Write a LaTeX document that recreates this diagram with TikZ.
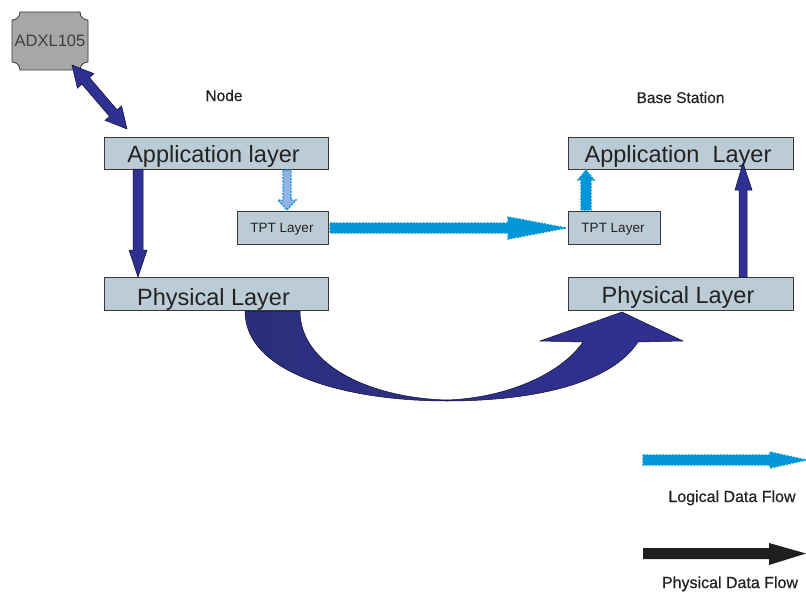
\documentclass[tikz,border=0pt]{standalone}
\usepackage{fontspec}
\setmainfont{Liberation Sans}
\newfontfamily\semibsans[FakeBold=0.6]{Liberation Sans}
\usetikzlibrary{calc}
\definecolor{boxfill}{HTML}{BCCCD7}
\definecolor{boxdraw}{HTML}{3A3A3A}
\definecolor{dblue}{HTML}{2E3192}
\definecolor{dblueL}{HTML}{2C2E7C}
\definecolor{cyanA}{HTML}{0096D8}
\definecolor{lavA}{HTML}{93B3E3}
\definecolor{adxlgray}{HTML}{A7A7A9}
\definecolor{txt}{HTML}{222222}
\tikzset{
  layerbox/.style={draw=boxdraw, fill=boxfill, line width=0.8pt, inner sep=0pt},
  bigtxt/.style={anchor=base, inner sep=0pt, text=txt, font=\fontsize{23.5}{28}\selectfont},
  smalltxt/.style={anchor=base, inner sep=0pt, text=txt, font=\fontsize{13.5}{16}\selectfont},
  captxt/.style={anchor=base, inner sep=0pt, text=txt, font=\semibsans\fontsize{15.5}{18}\selectfont},
  legtxt/.style={anchor=base, inner sep=0pt, text=txt, font=\semibsans\fontsize{16}{19}\selectfont},
  physarrow/.style={fill=dblue, draw=black!70!dblue, line width=0.5pt},
  logarrow/.style={fill=cyanA, draw=cyanA, line width=1.4pt, dash pattern=on 1.8pt off 1.4pt},
  logarrowlight/.style={fill=lavA, draw=cyanA, line width=1.4pt, dash pattern=on 1.8pt off 1.4pt},
}
\begin{document}
\begin{tikzpicture}[x=1pt,y=-1pt]
\useasboundingbox (0,0) rectangle (806,594);

% ADXL105 sensor
\path[fill=adxlgray, draw=boxdraw, line width=0.8pt]
  (20,12) -- (80,12) .. controls (80,17) and (84,20) .. (88,20)
  -- (88,62) .. controls (84,62) and (80,65) .. (80,70)
  -- (20,70) .. controls (20,65) and (16,62) .. (12,62)
  -- (12,20) .. controls (16,20) and (20,17) .. (20,12) -- cycle;
\node[anchor=base, inner sep=0pt, text=black!75, font=\fontsize{16.5}{19}\selectfont] (adxl) at (50,47) {ADXL105};

% headings
\node[captxt] (nodehd) at (224,101) {Node};
\node[captxt] (basehd) at (680.5,103) {Base Station};

% boxes (left)
\node[layerbox, minimum width=224pt, minimum height=32pt] (appL) at (216,153) {};
\node[layerbox, minimum width=91pt, minimum height=33pt] (tptL) at (282.5,227.5) {};
\node[layerbox, minimum width=224pt, minimum height=33pt] (phyL) at (216,293.5) {};
% boxes (right)
\node[layerbox, minimum width=225pt, minimum height=32pt] (appR) at (680.5,153) {};
\node[layerbox, minimum width=92pt, minimum height=33pt] (tptR) at (614,227.5) {};
\node[layerbox, minimum width=225pt, minimum height=33pt] (phyR) at (680.5,294) {};

% box texts
\node[bigtxt] (appLt) at (213.5,162) {Application layer};
\node[smalltxt] (tptLt) at (282,232.5) {TPT Layer};
\node[bigtxt] (phyLt) at (213.5,305) {Physical Layer};
\node[bigtxt] (appRt) at (678,162) {Application\ \ Layer};
\node[smalltxt] (tptRt) at (613,232.5) {TPT Layer};
\node[bigtxt] (phyRt) at (678,303.5) {Physical Layer};

% double arrow ADXL <-> application layer
\path[physarrow]
  (72,65) -- (77.4,88.1) -- (81.9,84.2) -- (109.5,116.4) -- (105.0,120.3)
  -- (127,129) -- (121.6,105.9) -- (117.1,109.8) -- (89.5,77.6) -- (94.0,73.7) -- cycle;

% left: application -> physical
\path[physarrow]
  (133,169) -- (143,169) -- (143,250) -- (147,250) -- (138,277) -- (129,250) -- (133,250) -- cycle;

% right: physical -> application
\path[physarrow]
  (739,277) -- (747,277) -- (747,190) -- (752,190) -- (743,163) -- (735,190) -- (739,190) -- cycle;

% left small logical arrow: application -> TPT
\path[logarrowlight]
  (283,170) -- (291,170) -- (291,200) -- (296,200) -- (287,210) -- (278,200) -- (283,200) -- cycle;

% right small logical arrow: TPT -> application
\path[logarrow]
  (581,210) -- (591,210) -- (591,180) -- (594,180) -- (586,170) -- (578,180) -- (581,180) -- cycle;

% horizontal logical arrow TPT -> TPT
\path[logarrow]
  (330,223) -- (508,223) -- (508,217) -- (566,228) -- (508,239) -- (508,233) -- (330,233) -- cycle;

% big curved physical arrow
\shade[left color=dblueL, right color=dblue, draw=black!70!dblue, line width=0.5pt]
  (245,311) .. controls (245,375) and (350,401) .. (447,401)
  .. controls (530,401) and (610,385) .. (638,342)
  -- (683,341) -- (622,312) -- (540,341) -- (583,342)
  .. controls (560,375) and (505,398) .. (447,400)
  .. controls (370,398) and (300,365) .. (300,311) -- cycle;

% legend
\path[logarrow]
  (643,455) -- (770,455) -- (770,452) -- (806,460) -- (770,468) -- (770,465) -- (643,465) -- cycle;
\node[legtxt] (leglog) at (732,502) {Logical Data Flow};
\path[fill=black!88]
  (643,548) -- (769,548) -- (769,543) -- (806,553.5) -- (769,565) -- (769,559) -- (643,559) -- cycle;
\node[legtxt] (legphy) at (730,588) {Physical Data Flow};
\end{tikzpicture}
\end{document}
